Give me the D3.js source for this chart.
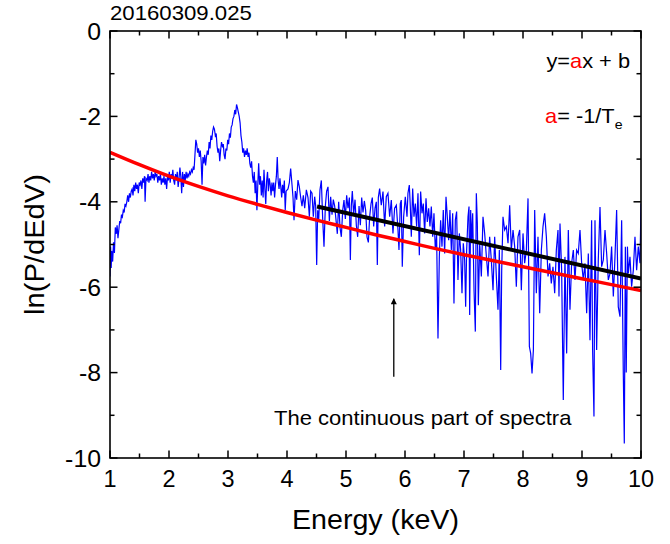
<!DOCTYPE html>
<html>
<head>
<meta charset="utf-8">
<script src="https://cdn.jsdelivr.net/npm/d3@7"></script>
<style>
  html, body { margin: 0; padding: 0; background: #fff; }
  svg { display: block; }
  text { font-family: "Liberation Sans", Arial, "DejaVu Sans", sans-serif; fill: #000; }
</style>
</head>
<body>
<svg id="chart" width="670" height="544"></svg>
<script>
// ---- spectrum 20160309.025 : [energy keV, ln(P/dEdV)] ----
const spectrumLow = [
  [1.00,-5.75],[1.01,-5.05],[1.02,-5.55],[1.03,-5.15],[1.045,-5.4],[1.06,-4.95],[1.075,-5.2],[1.09,-4.6],
  [1.105,-4.75],[1.12,-4.55],[1.135,-4.85],[1.15,-4.65],[1.165,-4.45],[1.18,-4.5],[1.195,-4.3],[1.21,-4.35],
  [1.225,-4.2],[1.24,-4.25],[1.255,-4.05],[1.27,-4.1],[1.285,-4.0],[1.30,-3.85],[1.315,-4.0],[1.33,-3.8],
  [1.345,-3.9],[1.36,-3.75],[1.375,-3.7],[1.39,-3.85],[1.405,-3.6],[1.42,-3.75],[1.435,-3.55],[1.45,-3.7],
  [1.465,-3.6],[1.48,-3.8],[1.495,-3.55],[1.51,-3.6],[1.525,-3.5],[1.54,-3.7],[1.555,-3.45],[1.57,-3.55],
  [1.585,-3.4],[1.595,-4.0],[1.61,-3.45],[1.63,-3.5],[1.645,-3.35],[1.66,-3.55],[1.675,-3.4],[1.69,-3.5],
  [1.705,-3.3],[1.72,-3.45],[1.735,-3.35],[1.75,-3.5],[1.765,-3.3],[1.78,-3.4],[1.795,-3.35],[1.81,-3.55],
  [1.825,-3.4],[1.84,-3.5],[1.855,-3.35],[1.87,-3.6],[1.885,-3.45],[1.90,-3.55],[1.915,-3.4],[1.93,-3.6],
  [1.945,-3.45],[1.96,-3.7],[1.975,-3.4],[1.99,-3.5],[2.005,-3.3],[2.02,-3.55],[2.035,-3.35],[2.05,-3.45],
  [2.065,-3.25],[2.08,-3.5],[2.095,-3.6],[2.11,-3.35],[2.125,-3.5],[2.14,-3.3],[2.155,-3.65],[2.17,-3.45],
  [2.185,-3.2],[2.20,-3.4],[2.215,-3.8],[2.23,-3.3],[2.245,-3.65],[2.26,-3.35],[2.275,-3.5],[2.29,-3.3],
  [2.305,-3.45],[2.32,-3.35],[2.335,-3.4],[2.35,-3.3],[2.365,-3.35],[2.38,-3.25],[2.395,-3.3],[2.41,-3.2],
  [2.425,-3.25]
];
const spectrumPeak = [
  [2.44,-2.9],[2.455,-2.55],[2.47,-2.65],[2.485,-2.85],[2.50,-2.75],[2.515,-2.95],[2.53,-2.8],[2.545,-3.05],
  [2.56,-3.6],[2.575,-2.95],[2.59,-3.1],[2.605,-2.9],[2.62,-3.15],[2.635,-2.95],[2.65,-2.8],[2.665,-2.9],
  [2.68,-2.6],[2.695,-2.75],[2.71,-2.45],[2.725,-2.55],[2.74,-2.35],[2.755,-2.25],[2.77,-2.3],[2.785,-2.45],
  [2.80,-2.4],[2.815,-2.7],[2.83,-2.85],[2.845,-2.75],[2.86,-3.05],[2.875,-2.8],[2.89,-2.6],[2.905,-2.7],
  [2.92,-2.65],[2.935,-2.9],[2.95,-3.0],[2.965,-2.75],[2.98,-2.8],[2.995,-2.55],[3.01,-2.65],[3.025,-2.4],
  [3.04,-2.5],[3.055,-2.25],[3.07,-2.2],[3.085,-2.05],[3.10,-2.0],[3.115,-1.85],[3.13,-1.95],[3.145,-1.72],
  [3.16,-1.8],[3.175,-1.9],[3.19,-2.0],[3.205,-2.15],[3.22,-2.45],[3.235,-2.6],[3.25,-2.85],[3.265,-2.75],
  [3.28,-2.95],[3.295,-2.8],[3.31,-2.9],[3.325,-2.75],[3.34,-2.95],[3.355,-2.85],[3.37,-3.1],[3.385,-3.2],
  [3.40,-3.05],[3.415,-3.4],[3.43,-3.55],[3.445,-3.3],[3.46,-3.8],[3.475,-3.5],[3.49,-4.2],[3.505,-3.6],
  [3.52,-3.1],[3.535,-3.6],[3.55,-3.4],[3.565,-3.85],[3.58,-3.5],[3.595,-3.9],[3.61,-3.25],[3.625,-3.7],
  [3.64,-4.05],[3.655,-3.5],[3.67,-3.3],[3.685,-3.75],[3.70,-3.45],[3.715,-3.6],[3.73,-3.85],[3.745,-3.55],
  [3.76,-3.75],[3.775,-3.55],[3.79,-3.9],[3.805,-3.6],[3.82,-3.4],[3.835,-2.95],[3.85,-3.5],[3.865,-3.7],
  [3.88,-3.45],[3.895,-3.65],[3.91,-3.9],[3.925,-3.6],[3.94,-3.8],[3.955,-3.5],[3.97,-4.2],[3.985,-3.75]
];
const spectrumMid = [
  [4.017,-3.7],[4.04,-3.55],[4.062,-3.22],[4.085,-3.6],[4.102,-3.9],[4.119,-4.43],[4.141,-3.75],[4.164,-3.95],
  [4.186,-3.49],[4.209,-3.65],[4.232,-3.9],[4.254,-4.1],[4.277,-3.85],[4.30,-4.15],[4.328,-3.72],[4.356,-3.9],
  [4.379,-4.35],[4.401,-3.75],[4.424,-3.8],[4.446,-4.35],[4.469,-3.88],[4.486,-4.1],[4.503,-5.48],[4.52,-4.2],
  [4.537,-4.43],[4.559,-3.72],[4.582,-3.5],[4.605,-4.4],[4.627,-5.05],[4.65,-4.1],[4.672,-3.75],[4.695,-3.65],
  [4.718,-4.45],[4.74,-3.88],[4.763,-4.3],[4.785,-3.95],[4.808,-4.1],[4.831,-4.43],[4.853,-4.75],[4.876,-4.0],
  [4.898,-4.6],[4.921,-4.82],[4.944,-4.2],[4.966,-3.96],[4.989,-4.4],[5.011,-3.85],[5.034,-4.15],[5.057,-3.9],
  [5.074,-5.36],[5.09,-4.1],[5.107,-3.75],[5.13,-4.3],[5.153,-3.95],[5.175,-4.55],[5.198,-4.82],[5.221,-4.1],
  [5.243,-4.55],[5.266,-3.9],[5.288,-4.25],[5.311,-3.98],[5.333,-4.2],[5.356,-4.82],[5.379,-4.95],[5.401,-4.35],
  [5.424,-4.05],[5.446,-3.9],[5.469,-4.58],[5.492,-4.15],[5.514,-4.0],[5.531,-5.48]
];
const spectrumHigh = [
  [5.548,-3.9],[5.570,-3.69],[5.598,-4.08],[5.627,-3.76],[5.655,-4.58],[5.683,-3.88],[5.711,-3.80],[5.740,-4.35],
  [5.768,-3.96],[5.796,-4.74],[5.824,-4.15],[5.853,-4.08],[5.881,-4.66],[5.898,-5.13],[5.920,-4.04],[5.937,-3.96],
  [5.954,-5.52],[5.977,-4.35],[6.005,-3.88],[6.034,-4.35],[6.050,-3.80],[6.073,-3.61],[6.090,-4.11],[6.107,-4.82],
  [6.130,-3.69],[6.152,-4.35],[6.175,-4.04],[6.197,-4.58],[6.220,-3.80],[6.243,-5.25],[6.265,-3.76],[6.288,-4.27],
  [6.310,-4.04],[6.333,-4.74],[6.356,-3.92],[6.378,-4.47],[6.401,-4.15],[6.423,-4.58],[6.446,-4.11],[6.469,-4.82],
  [6.491,-4.27],[6.514,-5.13],[6.536,-4.78],[6.559,-7.2],[6.582,-5.28],[6.604,-4.43],[6.627,-5.05],[6.649,-4.19],
  [6.672,-5.21],[6.695,-3.88],[6.717,-4.35],[6.740,-4.90],[6.762,-4.19],[6.785,-5.13],[6.808,-4.27],[6.830,-6.38],
  [6.853,-4.43],[6.875,-4.23],[6.898,-5.83],[6.921,-4.74],[6.943,-5.13],[6.966,-6.14],[6.988,-4.97],[7.011,-5.36],
  [7.028,-6.46],[7.045,-5.13],[7.068,-4.35],[7.085,-4.11],[7.096,-6.65],[7.113,-4.19],[7.130,-4.97],[7.147,-4.27],
  [7.170,-6.07],[7.192,-7.04],[7.209,-3.80],[7.226,-4.5],[7.243,-6.42],[7.266,-4.97],[7.294,-5.75],[7.322,-4.35],
  [7.350,-4.74],[7.379,-5.28],[7.407,-5.75],[7.435,-4.82],[7.463,-5.36],[7.492,-6.07],[7.520,-4.82],[7.548,-5.75],
  [7.576,-6.53],[7.599,-5.13],[7.622,-7.94],[7.639,-5.60],[7.661,-4.35],[7.689,-4.66],[7.718,-4.58],[7.746,-4.97],
  [7.774,-4.08],[7.802,-5.13],[7.831,-4.66],[7.859,-5.05],[7.887,-5.99],[7.915,-4.82],[7.944,-4.66],[7.972,-6.07],
  [8.000,-4.74],[8.028,-5.44],[8.057,-5.13],[8.085,-3.92],[8.108,-7.39],[8.130,-7.55],[8.153,-8.02],[8.176,-7.47],
  [8.198,-4.19],[8.226,-6.14],[8.254,-4.82],[8.283,-6.61],[8.311,-5.13],[8.339,-4.58],[8.367,-4.27],[8.396,-4.82],
  [8.424,-5.75],[8.452,-5.44],[8.480,-5.91],[8.508,-5.52],[8.537,-6.14],[8.565,-5.13],[8.593,-4.66]
];
const spectrumTail = [
  [8.610,-6.22],[8.627,-4.51],[8.655,-5.60],[8.683,-8.64],[8.711,-5.29],[8.740,-7.55],[8.768,-4.66],[8.796,-6.53],
  [8.824,-5.44],[8.853,-5.13],[8.881,-5.83],[8.909,-5.13],[8.937,-5.21],[8.966,-4.66],[8.994,-5.44],[9.022,-5.83],
  [9.050,-5.44],[9.079,-6.61],[9.107,-5.21],[9.135,-7.24],[9.163,-4.43],[9.180,-7.47],[9.203,-9.03],[9.220,-4.43],
  [9.248,-7.47],[9.276,-5.36],[9.305,-4.12],[9.333,-5.52],[9.361,-5.36],[9.390,-4.66],[9.418,-5.21],[9.446,-5.83],
  [9.474,-5.68],[9.502,-5.05],[9.531,-6.22],[9.559,-5.29],[9.587,-4.19],[9.615,-6.46],[9.644,-6.69],[9.672,-4.43],
  [9.700,-8.02],[9.717,-9.66],[9.735,-5.05],[9.750,-8.0],[9.770,-5.05],[9.785,-5.68],[9.813,-5.29],[9.841,-5.99],
  [9.870,-5.60],[9.898,-4.82],[9.926,-5.60],[9.954,-5.05],[9.983,-5.44],[10.0,-4.04]
];

// ---- red fitted curve ----
const fitEnergy = [1, 1.5, 2, 2.5, 3, 3.5, 4, 4.5, 5, 5.5, 6, 6.5, 7, 7.5, 8, 8.5, 9, 9.5, 10];
const fitLn     = [-2.84, -3.13, -3.40, -3.64, -3.86, -4.06, -4.25, -4.43, -4.60, -4.77,
                   -4.93, -5.09, -5.24, -5.38, -5.52, -5.66, -5.80, -5.94, -6.08];

// ---- black linear fit y = ax + b over the continuum ----
const lineEnergy = [4.51, 10];
const lineLn     = [-4.11, -5.80];

// ---- axes ----
const xTicks = [1, 2, 3, 4, 5, 6, 7, 8, 9, 10];
const yTicks = [0, -2, -4, -6, -8, -10];
const arrowEnergy = 5.81;
const arrowFrom = -8.10, arrowTo = -6.27;

const svg = d3.select("#chart");
const plotL = 110, plotR = 641, plotT = 31, plotB = 458;

const x = d3.scaleLinear().domain([1, 10]).range([plotL, plotR]);
const y = d3.scaleLinear().domain([-10, 0]).range([plotB, plotT]);

svg.append("rect").attr("width", 670).attr("height", 544).attr("fill", "#fff");

const defs = svg.append("defs");
defs.append("clipPath").attr("id", "plotClip")
  .append("rect").attr("x", plotL).attr("y", plotT).attr("width", plotR - plotL).attr("height", plotB - plotT);

const plot = svg.append("g").attr("clip-path", "url(#plotClip)");

const spectrum = [].concat(spectrumLow, spectrumPeak, spectrumMid, spectrumHigh, spectrumTail);
const straight = d3.line().x(d => x(d[0])).y(d => y(d[1]));
const smooth = d3.line().x(d => x(d[0])).y(d => y(d[1])).curve(d3.curveMonotoneX);

plot.append("path").datum(spectrum)
  .attr("d", straight)
  .attr("fill", "none").attr("stroke", "#0000ff").attr("stroke-width", 1.2);

const fitPts = fitEnergy.map((e, i) => [e, fitLn[i]]);
plot.append("path").datum(fitPts)
  .attr("d", smooth)
  .attr("fill", "none").attr("stroke", "#ff0000").attr("stroke-width", 3.5);

const linePts = lineEnergy.map((e, i) => [e, lineLn[i]]);
plot.append("path").datum(linePts)
  .attr("d", straight)
  .attr("fill", "none").attr("stroke", "#000").attr("stroke-width", 4);

// ---- frame with inward ticks on all four sides ----
const axisG = svg.append("g");
const xMinor = d3.range(1.5, 10, 1);
const yMinor = d3.range(-9, 0, 2);

function tickLines(vals, len, side) {
  vals.forEach(v => {
    let x1, y1, x2, y2;
    if (side === "bottom") { x1 = x2 = x(v); y1 = plotB; y2 = plotB - len; }
    if (side === "top")    { x1 = x2 = x(v); y1 = plotT; y2 = plotT + len; }
    if (side === "left")   { y1 = y2 = y(v); x1 = plotL; x2 = plotL + len; }
    if (side === "right")  { y1 = y2 = y(v); x1 = plotR; x2 = plotR - len; }
    axisG.append("line").attr("x1", x1).attr("y1", y1).attr("x2", x2).attr("y2", y2)
      .attr("stroke", "#000").attr("stroke-width", 1.5);
  });
}
["bottom", "top"].forEach(s => { tickLines(xTicks, 7.5, s); tickLines(xMinor, 4.5, s); });
["left", "right"].forEach(s => { tickLines(yTicks, 7.5, s); tickLines(yMinor, 4.5, s); });

axisG.append("rect").attr("x", plotL).attr("y", plotT).attr("width", plotR - plotL).attr("height", plotB - plotT)
  .attr("fill", "none").attr("stroke", "#000").attr("stroke-width", 1.6);

// text placed at (px, py), slightly widened along its baseline
function label(px, py, size, anchor, stretch, rotate) {
  const rot = rotate ? ` rotate(${rotate})` : "";
  return svg.append("text")
    .attr("transform", `translate(${px},${py})${rot} scale(${stretch},1)`)
    .attr("text-anchor", anchor).attr("font-size", size);
}

// tick labels
xTicks.forEach(t => label(x(t), plotB + 29, 23, "middle", 1.02).text(t));
yTicks.forEach(t => label(plotL - 9, y(t) + 8.5, 23, "end", 1.08).text(t));

// axis titles
label((plotL + plotR) / 2, 529, 27, "middle", 1.06).text("Energy (keV)");
label(44, (plotT + plotB) / 2, 27, "middle", 1.08, -90).text("ln(P/dEdV)");

// shot label
label(plotL, 20, 20, "start", 1.11).text("20160309.025");

// equation notes
const eq1 = label(630, 68, 20, "end", 1.09);
eq1.append("tspan").text("y=");
eq1.append("tspan").attr("fill", "#ff0000").text("a");
eq1.append("tspan").text("x + b");

const eq2 = label(545, 123, 20, "start", 1.09);
eq2.append("tspan").attr("fill", "#ff0000").text("a");
eq2.append("tspan").text("= -1/T");
eq2.append("tspan").attr("font-size", 13).attr("dy", 6).text("e");

// annotation arrow pointing at the continuum
defs.append("marker").attr("id", "arrowHead")
  .attr("viewBox", "0 0 10 10").attr("refX", 9).attr("refY", 5)
  .attr("markerWidth", 10).attr("markerHeight", 6).attr("markerUnits", "userSpaceOnUse")
  .attr("orient", "auto")
  .append("path").attr("d", "M0,0 L10,5 L0,10 Z").attr("fill", "#000");

svg.append("line")
  .attr("x1", x(arrowEnergy)).attr("y1", y(arrowFrom))
  .attr("x2", x(arrowEnergy)).attr("y2", y(arrowTo))
  .attr("stroke", "#000").attr("stroke-width", 1.3).attr("marker-end", "url(#arrowHead)");

label(274, 425, 20.5, "start", 1.075).text("The continuous part of spectra");
</script>
</body>
</html>
